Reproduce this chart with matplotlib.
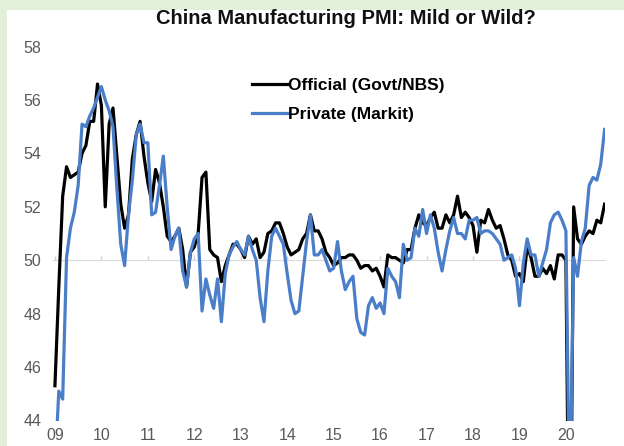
import matplotlib
matplotlib.use("Agg")
import matplotlib.pyplot as plt
import numpy as np

plt.rcParams['font.family'] = ['Liberation Sans', 'DejaVu Sans']

title = "China Manufacturing PMI: Mild or Wild?"
series_names = ["Official (Govt/NBS)", "Private (Markit)"]
year_labels = ["09", "10", "11", "12", "13", "14", "15", "16", "17", "18", "19", "20"]
y_ticks = [44, 46, 48, 50, 52, 54, 56, 58]

# Monthly values, Jan 2009 .. Nov 2020
official = [
    45.3, 49.0, 52.4, 53.5, 53.1, 53.2, 53.3, 54.0, 54.3, 55.2, 55.2, 56.6,
    55.8, 52.0, 55.1, 55.7, 53.9, 52.1, 51.2, 51.7, 53.8, 54.7, 55.2, 53.9,
    52.9, 52.2, 53.4, 52.9, 52.0, 50.9, 50.7, 50.9, 51.2, 50.4, 49.0, 50.3,
    50.5, 51.0, 53.1, 53.3, 50.4, 50.2, 50.1, 49.2, 49.8, 50.2, 50.6, 50.6,
    50.4, 50.1, 50.9, 50.6, 50.8, 50.1, 50.3, 51.0, 51.1, 51.4, 51.4, 51.0,
    50.5, 50.2, 50.3, 50.4, 50.8, 51.0, 51.7, 51.1, 51.1, 50.8, 50.3, 50.1,
    49.8, 49.9, 50.1, 50.1, 50.2, 50.2, 50.0, 49.7, 49.8, 49.8, 49.6, 49.7,
    49.4, 49.0, 50.2, 50.1, 50.1, 50.0, 49.9, 50.4, 50.4, 51.2, 51.7, 51.4,
    51.3, 51.6, 51.8, 51.2, 51.2, 51.7, 51.4, 51.7, 52.4, 51.6, 51.8, 51.6,
    51.3, 50.3, 51.5, 51.4, 51.9, 51.5, 51.2, 51.3, 50.8, 50.2, 50.0, 49.4,
    49.5, 49.2, 50.5, 50.1, 49.4, 49.4, 49.7, 49.5, 49.8, 49.3, 50.2, 50.2,
    50.0, 35.7, 52.0, 50.8, 50.6, 50.9, 51.1, 51.0, 51.5, 51.4, 52.1,
]
private = [
    42.2, 45.1, 44.8, 50.1, 51.2, 51.8, 52.8, 55.1, 55.0, 55.4, 55.7, 56.1,
    56.5, 56.0, 55.6, 55.0, 52.7, 50.6, 49.8, 51.7, 53.0, 54.7, 55.1, 54.4,
    54.4, 51.7, 51.8, 52.8, 53.9, 52.0, 50.4, 50.9, 51.2, 49.6, 49.0, 50.3,
    50.8, 51.0, 48.1, 49.3, 48.7, 48.2, 49.3, 47.7, 49.5, 50.2, 50.5, 50.7,
    50.4, 50.2, 50.9, 50.4, 50.0, 48.6, 47.7, 49.6, 50.9, 51.2, 50.9, 50.6,
    49.5, 48.5, 48.0, 48.1, 49.4, 50.7, 51.7, 50.2, 50.2, 50.4, 50.0, 49.6,
    49.7, 50.7, 49.6, 48.9, 49.2, 49.4, 47.8, 47.3, 47.2, 48.3, 48.6, 48.2,
    48.4, 48.0, 49.7, 49.4, 49.2, 48.6, 50.6, 50.0, 50.1, 51.2, 50.9, 51.9,
    51.0, 51.7, 51.2, 50.3, 49.6, 50.4, 51.1, 51.6, 51.0, 51.0, 50.8, 51.5,
    51.5, 51.6, 51.0, 51.1, 51.1, 51.0, 50.8, 50.6, 50.0, 50.1, 50.2, 49.7,
    48.3, 49.9, 50.8, 50.2, 50.2, 49.4, 49.9, 50.4, 51.4, 51.7, 51.8, 51.5,
    51.1, 40.3, 50.1, 49.4, 50.7, 51.2, 52.8, 53.1, 53.0, 53.6, 54.9,
]

months = np.arange(len(official))
year_pos = np.arange(len(year_labels)) * 12

W, H = 624, 446
fig = plt.figure(figsize=(W / 100, H / 100), dpi=100)
fig.patch.set_facecolor('#e2efd9')

# white panel behind the chart
bg = fig.add_axes([7 / W, 0, 1 - 7 / W, 1 - 10 / H], zorder=-1)
bg.set_facecolor('white')
bg.set_xticks([]); bg.set_yticks([])
for s in bg.spines.values():
    s.set_visible(False)

ax = fig.add_axes([53 / W, 1 - 420.5 / H, (605 - 53) / W, (420.5 - 46.6) / H], zorder=1)
ax.set_facecolor('none')

ax.plot(months, official, color='black', lw=2.3, label=series_names[0], zorder=3,
        solid_joinstyle='round')
ax.plot(months, private, color='#4a7ec9', lw=2.3, label=series_names[1], zorder=4,
        solid_joinstyle='round')

ax.set_ylim(44, 58)
ax.set_xlim(-0.5, 142.1)
ax.set_yticks(y_ticks)
ax.set_yticklabels([str(t) for t in y_ticks])
ax.set_xticks(year_pos)
ax.set_xticklabels(year_labels)
ax.tick_params(axis='both', length=0, labelsize=11.5, labelcolor='#595959')
ax.tick_params(axis='y', pad=8.5)
ax.tick_params(axis='x', pad=5.5)
for s in ax.spines.values():
    s.set_visible(False)

# axis line at 50 with small year ticks
sec = ax.secondary_xaxis((50 - 44) / (58 - 44))
sec.set_xticks(year_pos)
sec.set_xticklabels([])
sec.tick_params(direction='in', length=3, color='#d0d0d0', width=1)
for s in sec.spines.values():
    s.set_color('#d9d9d9')

fig.text(346 / W, 1 - 18 / H, title, ha='center', va='center', fontsize=14.5,
         fontweight='bold', color='#111111')

leg = ax.legend(loc='upper left', bbox_to_anchor=(252 / W, 1 - 78 / H),
                bbox_transform=fig.transFigure, frameon=False, borderpad=0,
                borderaxespad=0, handlelength=2.1, handletextpad=0.0,
                labelspacing=0.8, prop={'weight': 'bold', 'size': 12.5})

fig.savefig('out.png', dpi=100, facecolor=fig.get_facecolor())
